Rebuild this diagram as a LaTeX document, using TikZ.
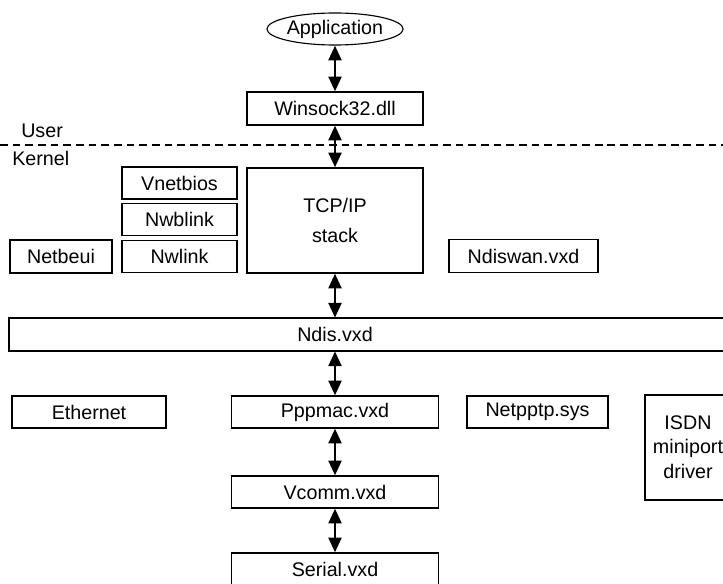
\documentclass[tikz,border=0pt]{standalone}
\usepackage{fontspec}
\setmainfont{Liberation Sans}
\usetikzlibrary{arrows.meta, shapes.geometric}

\begin{document}
\begin{tikzpicture}[x=0.025cm, y=-0.025cm,
    font=\fontsize{14}{17}\selectfont,
    box/.style={draw, line width=0.8pt, minimum height=0.825cm, inner sep=0pt},
    link/.style={line width=2.1pt,
        {Triangle[length=10.5pt,width=9pt]}-{Triangle[length=10.5pt,width=9pt]}}]

    \clip (0,0) rectangle (723,584);

    % user mode
    \node[draw, ellipse, line width=0.8pt, minimum width=3.125cm, minimum height=0.8cm, inner sep=0pt] (app) at (335,29) {Application};
    \node[box, minimum width=4.4cm] (winsock) at (335,108.5) {Winsock32.dll};

    % user / kernel boundary
    \draw[line width=0.8pt, dash pattern=on 5.5pt off 3.5pt] (0,145) -- (723,145);
    \node[anchor=base west, inner sep=0pt] (user) at (21,138) {User};
    \node[anchor=base west, inner sep=0pt] (kernel) at (12,166) {Kernel};

    % protocols
    \node[box, minimum width=4.4cm, minimum height=2.625cm, align=center, font=\fontsize{14}{21.5}\selectfont] (tcp) at (335,220.5) {TCP/IP\\stack};
    \node[box, minimum width=2.875cm, minimum height=0.8cm] (vnetbios) at (179.5,183) {Vnetbios};
    \node[box, minimum width=2.875cm, minimum height=0.8cm] (nwblink) at (179.5,219.5) {Nwblink};
    \node[box, minimum width=2.875cm, minimum height=0.8cm] (nwlink) at (179.5,256.5) {Nwlink};
    \node[box, minimum width=2.55cm] (netbeui) at (61,256.5) {Netbeui};
    \node[box, minimum width=3.725cm] (ndiswan) at (523.5,256) {Ndiswan.vxd};

    % ndis wrapper, runs off the right side
    \draw[line width=0.8pt] (9,318) rectangle (760,351);
    \node[minimum height=0.825cm, inner sep=0pt] (ndis) at (335,334.5) {Ndis.vxd};

    % miniports
    \node[box, minimum width=3.85cm, minimum height=0.8cm] (ethernet) at (89,412) {Ethernet};
    \node[box, minimum width=5.175cm, minimum height=0.8cm] (pppmac) at (335,412) {Pppmac.vxd};
    \node[box, minimum width=3.525cm, minimum height=0.8cm] (netpptp) at (537.5,412) {Netpptp.sys};
    \draw[line width=0.8pt] (645,395) rectangle (780,500);
    \node[align=center, font=\fontsize{14}{17.5}\selectfont] (isdn) at (688,447) {ISDN\\miniport\\driver};

    % serial path
    \node[box, minimum width=5.175cm, minimum height=0.8cm] (vcomm) at (335,492) {Vcomm.vxd};
    \node[box, minimum width=5.175cm] (serial) at (335,569.5) {Serial.vxd};

    \draw[link] (app) -- (winsock);
    \draw[link] (winsock) -- (tcp);
    \draw[link] (tcp.south) -- (tcp.south |- ndis.north);
    \draw[link] (pppmac.north |- ndis.south) -- (pppmac.north);
    \draw[link] (pppmac) -- (vcomm);
    \draw[link] (vcomm) -- (serial);

\end{tikzpicture}
\end{document}
